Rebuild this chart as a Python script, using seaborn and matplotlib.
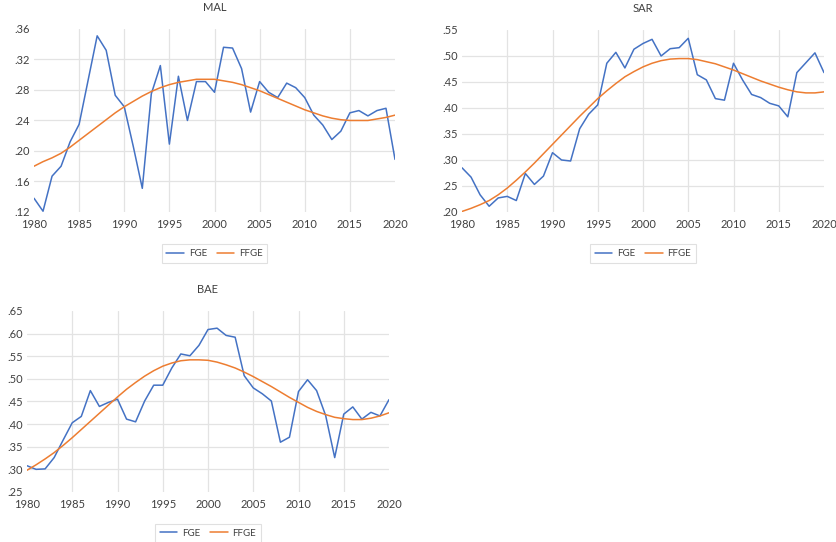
import numpy as np
import pandas as pd
import matplotlib
matplotlib.use('Agg')
import matplotlib.pyplot as plt
import seaborn as sns
from matplotlib.ticker import FuncFormatter

years = list(range(1980, 2021))

# MAL
mal_fge = [0.138, 0.121, 0.167, 0.180, 0.212, 0.235, 0.293, 0.351, 0.332, 0.273,
           0.258, 0.206, 0.151, 0.275, 0.312, 0.209, 0.298, 0.240, 0.291, 0.291,
           0.277, 0.336, 0.335, 0.308, 0.251, 0.291, 0.277, 0.270, 0.289, 0.283,
           0.270, 0.247, 0.234, 0.215, 0.226, 0.250, 0.253, 0.246, 0.253, 0.256,
           0.189]
mal_ffge = [0.180, 0.186, 0.191, 0.197, 0.205, 0.214, 0.223, 0.232, 0.241, 0.250,
            0.258, 0.265, 0.272, 0.278, 0.283, 0.287, 0.290, 0.292, 0.294, 0.294,
            0.294, 0.292, 0.290, 0.287, 0.283, 0.279, 0.274, 0.269, 0.264, 0.259,
            0.254, 0.250, 0.246, 0.243, 0.241, 0.240, 0.240, 0.240, 0.242, 0.244,
            0.247]

# SAR
sar_fge = [0.285, 0.267, 0.233, 0.211, 0.227, 0.230, 0.222, 0.274, 0.253, 0.269,
           0.314, 0.300, 0.298, 0.360, 0.388, 0.406, 0.486, 0.507, 0.477, 0.513,
           0.524, 0.532, 0.500, 0.514, 0.516, 0.534, 0.464, 0.454, 0.418, 0.415,
           0.486, 0.454, 0.426, 0.420, 0.409, 0.404, 0.383, 0.468, 0.487, 0.506,
           0.468]
sar_ffge = [0.201, 0.207, 0.214, 0.222, 0.233, 0.246, 0.261, 0.277, 0.294, 0.312,
            0.330, 0.348, 0.366, 0.384, 0.401, 0.418, 0.433, 0.447, 0.460, 0.470,
            0.479, 0.486, 0.491, 0.494, 0.495, 0.495, 0.493, 0.489, 0.485, 0.479,
            0.473, 0.466, 0.459, 0.452, 0.446, 0.440, 0.435, 0.431, 0.429, 0.429,
            0.431]

# BAE
bae_fge = [0.308, 0.300, 0.301, 0.326, 0.365, 0.403, 0.417, 0.474, 0.439, 0.448,
           0.455, 0.411, 0.405, 0.451, 0.486, 0.486, 0.524, 0.555, 0.551, 0.574,
           0.609, 0.612, 0.596, 0.592, 0.507, 0.480, 0.467, 0.451, 0.360, 0.371,
           0.472, 0.498, 0.474, 0.419, 0.326, 0.422, 0.438, 0.411, 0.426, 0.418,
           0.454]
bae_ffge = [0.298, 0.310, 0.323, 0.337, 0.353, 0.370, 0.388, 0.406, 0.424, 0.442,
            0.460, 0.477, 0.492, 0.506, 0.518, 0.528, 0.535, 0.540, 0.542, 0.542,
            0.541, 0.537, 0.531, 0.524, 0.515, 0.505, 0.494, 0.483, 0.471, 0.459,
            0.448, 0.437, 0.428, 0.421, 0.415, 0.412, 0.410, 0.410, 0.413, 0.418,
            0.425]

sns.set_theme(style='white')
plt.rcParams['font.family'] = ['Lato', 'DejaVu Sans']

fig = plt.figure(figsize=(8.37, 5.42), dpi=100)

panels = [
    ('MAL', mal_fge, mal_ffge, (0.12, 0.36, 7), [34 / 837, 0.6089, 361 / 837, 183 / 542]),
    ('SAR', sar_fge, sar_ffge, (0.20, 0.55, 8), [462 / 837, 0.6089, 362 / 837, 182 / 542]),
    ('BAE', bae_fge, bae_ffge, (0.25, 0.65, 9), [27 / 837, 0.0923, 362 / 837, 181 / 542]),
]

palette = {'FGE': '#4472C4', 'FFGE': '#ED7D31'}

for name, fge, ffge, (lo, hi, n), rect in panels:
    ax = fig.add_axes(rect)
    df = pd.DataFrame({'year': years * 2,
                       'value': fge + ffge,
                       'series': ['FGE'] * len(years) + ['FFGE'] * len(years)})
    sns.lineplot(data=df, x='year', y='value', hue='series', palette=palette,
                 linewidth=1.1, ax=ax)
    ax.set_xlim(1980, 2020)
    ax.set_ylim(lo, hi)
    ax.set_xticks(range(1980, 2021, 5))
    ax.set_yticks(np.linspace(lo, hi, n))
    ax.yaxis.set_major_formatter(FuncFormatter(lambda v, p: f'{v:.2f}'.lstrip('0')))
    ax.tick_params(axis='both', labelsize=8, colors='#404040', length=0)
    ax.tick_params(axis='x', pad=5)
    ax.tick_params(axis='y', pad=3)
    ax.grid(True, color='#e3e3e3', linewidth=0.9)
    for t in [ax.xaxis.get_major_ticks()[0], ax.xaxis.get_major_ticks()[-1],
              ax.yaxis.get_major_ticks()[0], ax.yaxis.get_major_ticks()[-1]]:
        t.gridline.set_visible(False)
    sns.despine(ax=ax, left=True, bottom=True)
    ax.set_xlabel('')
    ax.set_ylabel('')
    ax.set_title(name, fontsize=8, color='#404040', pad=13)
    leg = ax.legend(loc='upper center', bbox_to_anchor=(0.5, -0.15), ncol=2,
                    frameon=True, fancybox=False, fontsize=7, handlelength=1.8,
                    handletextpad=0.5, columnspacing=1.0, borderpad=0.5)
    leg.get_frame().set_edgecolor('#d9d9d9')
    leg.get_frame().set_linewidth(0.8)
    for txt in leg.get_texts():
        txt.set_color('#404040')

fig.savefig('out.png', dpi=100)
